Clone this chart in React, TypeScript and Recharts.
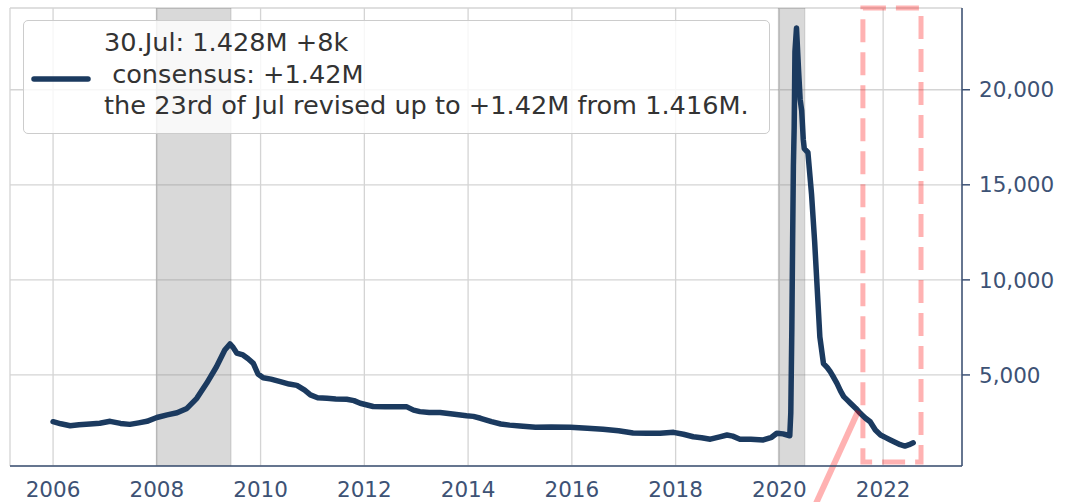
import React from 'react';
import { LineChart, Line, XAxis, YAxis, CartesianGrid, ReferenceArea, ReferenceLine, Legend } from 'recharts';

// continuing claims (thousands)
const weeks = [
  2006.0, 2006.15, 2006.33, 2006.5, 2006.71, 2006.9, 2007.1, 2007.3, 2007.48, 2007.65, 2007.81,
  2008.0, 2008.2, 2008.39, 2008.58, 2008.77, 2008.96, 2009.15, 2009.31, 2009.41, 2009.47, 2009.54,
  2009.66, 2009.76, 2009.86, 2009.95, 2010.05, 2010.2, 2010.38, 2010.55, 2010.7, 2010.85, 2010.96,
  2011.1, 2011.28, 2011.45, 2011.66, 2011.8, 2011.92, 2012.17, 2012.4, 2012.6, 2012.82, 2012.95,
  2013.07, 2013.25, 2013.46, 2013.7, 2013.97, 2014.1, 2014.24, 2014.45, 2014.63, 2014.8, 2015.0,
  2015.3, 2015.6, 2015.97, 2016.3, 2016.6, 2016.9, 2017.18, 2017.45, 2017.7, 2017.96, 2018.15,
  2018.34, 2018.5, 2018.67, 2018.85, 2018.99, 2019.1, 2019.24, 2019.45, 2019.69, 2019.85, 2019.95,
  2020.07, 2020.2, 2020.22, 2020.24, 2020.255, 2020.27, 2020.285, 2020.3, 2020.33, 2020.37, 2020.4,
  2020.43, 2020.46, 2020.48, 2020.55, 2020.62, 2020.68, 2020.73, 2020.78, 2020.85, 2020.92, 2020.98,
  2021.05, 2021.11, 2021.18, 2021.24, 2021.3, 2021.37, 2021.47, 2021.56, 2021.65, 2021.75, 2021.85,
  2021.95, 2022.05, 2022.14, 2022.24, 2022.33, 2022.42, 2022.5, 2022.58,
];
const claims = [
  2540, 2430, 2330, 2380, 2420, 2460, 2560, 2450, 2400, 2480, 2560,
  2760, 2900, 3010, 3240, 3770, 4560, 5430, 6310, 6630, 6450, 6150,
  6050, 5850, 5610, 5050, 4850, 4780, 4650, 4520, 4450, 4200, 3950,
  3800, 3770, 3740, 3720, 3650, 3510, 3340, 3320, 3330, 3320, 3150,
  3070, 3030, 3020, 2940, 2850, 2820, 2720, 2540, 2420, 2360, 2320,
  2250, 2260, 2250, 2190, 2140, 2060, 1950, 1930, 1930, 1980, 1880,
  1750, 1700, 1620, 1740, 1840, 1780, 1620, 1620, 1580, 1720, 1930,
  1900, 1800, 3000, 7400, 12000, 16000, 18000, 22000, 23250, 21000, 19500,
  18900, 17400, 16900, 16700, 14500, 12000, 9500, 7000, 5600, 5400, 5170,
  4850, 4560, 4150, 3860, 3700, 3510, 3250, 2980, 2750, 2540, 2100,
  1840, 1700, 1580, 1450, 1330, 1260, 1330, 1430,
];

const recessions = [
  [2007.99, 2009.43],
  [2019.98, 2020.49],
];
const highlight = [2021.61, 2022.73];
const pointer = [
  { x: 2021.52, y: 3100 },
  { x: 2020.56, y: -2630 },
];

const xTicks = [2006, 2008, 2010, 2012, 2014, 2016, 2018, 2020, 2022];
const yTicks = [5000, 10000, 15000, 20000];

const legendLines = [
  '30.Jul: 1.428M +8k',
  ' consensus: +1.42M',
  'the 23rd of Jul revised up to +1.42M from 1.416M.',
];

const data = weeks.map((w, i) => ({ week: w, claims: claims[i] }));

const navy = '#1b3a5f';
const axisColor = '#3d5275';
const font = '"DejaVu Sans", sans-serif';

const LegendBox = () => (
  <div
    style={{
      width: 745,
      height: 112,
      boxSizing: 'content-box',
      border: '1px solid #cccccc',
      borderRadius: 5,
      background: 'rgba(255,255,255,0.8)',
      position: 'relative',
      fontFamily: font,
      fontSize: 25.6,
      color: '#333333',
    }}
  >
    <svg width={70} height={112} style={{ position: 'absolute', left: 0, top: 0 }}>
      <line x1={10} y1={58} x2={64} y2={58} stroke={navy} strokeWidth={5.5} strokeLinecap="round" />
    </svg>
    <div style={{ position: 'absolute', left: 80, top: 6, lineHeight: '31.5px', whiteSpace: 'pre' }}>
      {legendLines.map((t, i) => (
        <div key={i}>{t}</div>
      ))}
    </div>
  </div>
);

export default function App() {
  return (
    <div style={{ position: 'absolute', left: 0, top: 0, background: '#fff' }}>
      <LineChart width={1065} height={502} data={data} margin={{ top: 8, right: 0, bottom: 0, left: 10 }}>
        <CartesianGrid stroke="#d4d4d4" strokeWidth={1.3} />
        {recessions.map(([a, b], i) => (
          <ReferenceArea
            key={i}
            x1={a}
            x2={b}
            fill="#808080"
            fillOpacity={0.3}
            stroke="#808080"
            strokeOpacity={0.3}
            ifOverflow="hidden"
          />
        ))}
        <XAxis
          dataKey="week"
          type="number"
          domain={[2005.17, 2023.52]}
          ticks={xTicks}
          allowDataOverflow
          height={36}
          tickLine={false}
          tickSize={8}
          tickMargin={8}
          axisLine={{ stroke: axisColor, strokeWidth: 1.5 }}
          tick={{ fill: axisColor, fontSize: 21.5, fontFamily: font }}
        />
        <YAxis
          orientation="right"
          type="number"
          domain={[210, 24300]}
          ticks={yTicks}
          allowDataOverflow
          width={103}
          tickSize={8}
          tickMargin={9}
          tickFormatter={(v: number) => v.toLocaleString('en-US')}
          axisLine={{ stroke: axisColor, strokeWidth: 1.5 }}
          tickLine={{ stroke: axisColor, strokeWidth: 1.5 }}
          tick={{ fill: axisColor, fontSize: 21.5, fontFamily: font }}
        />
        <Line
          type="linear"
          dataKey="claims"
          stroke={navy}
          strokeWidth={5.5}
          strokeLinejoin="round"
          strokeLinecap="round"
          dot={false}
          isAnimationActive={false}
        />
        <ReferenceArea
          x1={highlight[0]}
          x2={highlight[1]}
          y1={420}
          y2={24300}
          fill="none"
          stroke="red"
          strokeOpacity={0.3}
          strokeWidth={5}
          strokeDasharray="23 10"
        />
        <ReferenceLine segment={pointer} stroke="red" strokeOpacity={0.3} strokeWidth={6} ifOverflow="visible" />
        <Legend
          layout="horizontal"
          verticalAlign="middle"
          align="center"
          content={() => <LegendBox />}
          wrapperStyle={{ left: 23, top: 20, width: 747, height: 114 }}
        />
      </LineChart>
    </div>
  );
}
